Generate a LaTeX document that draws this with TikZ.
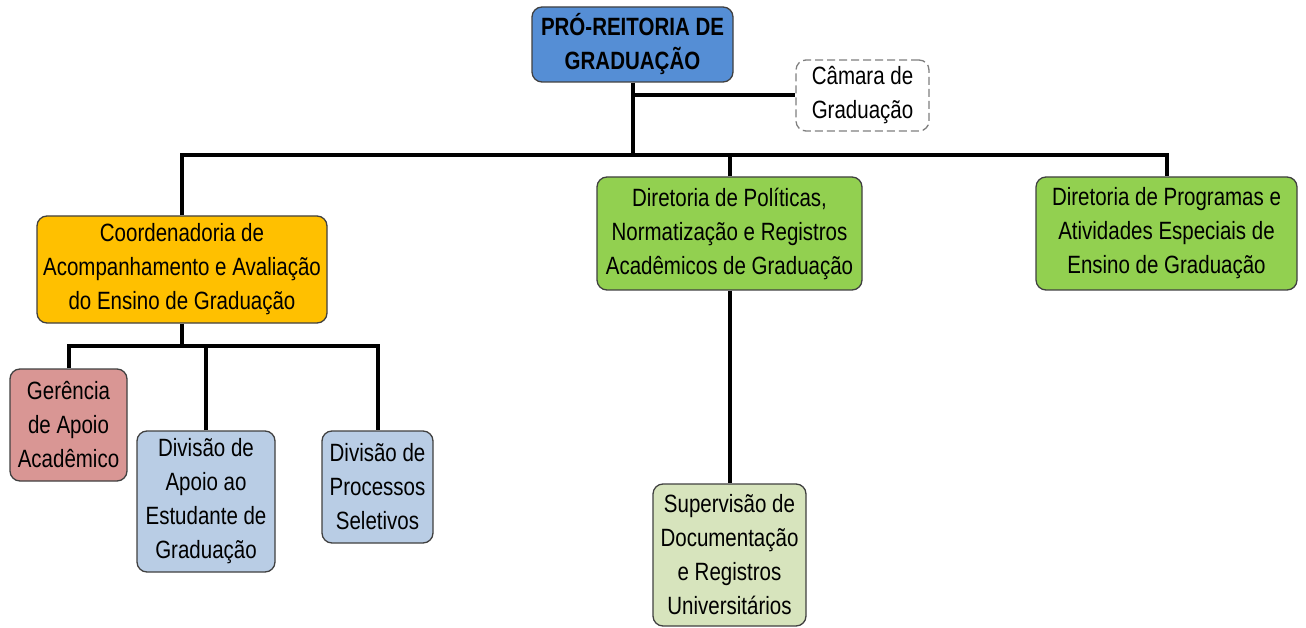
\documentclass[tikz,border=0pt]{standalone}
\usepackage{fontspec}
\setmainfont{Liberation Sans}[FakeStretch=0.82]
\definecolor{cblue}{HTML}{558ED5}
\definecolor{corange}{HTML}{FFC000}
\definecolor{cgreen}{HTML}{92D050}
\definecolor{cred}{HTML}{D99694}
\definecolor{clblue}{HTML}{B9CDE5}
\definecolor{clgreen}{HTML}{D7E4BD}
\definecolor{cborder}{HTML}{404040}
\definecolor{cdash}{HTML}{7F7F7F}
\begin{document}
\begin{tikzpicture}[x=1pt,y=-1pt,
  box/.style={draw=cborder, line width=1.3pt, rounded corners=10pt, align=center,
    inner sep=0pt, font=\fontsize{25}{34}\selectfont, text=black},
  conn/.style={line width=4pt, black}]
\useasboundingbox (0,0) rectangle (1306,628);
\node[box, fill=cblue, minimum width=201, minimum height=75,
  font=\fontsize{25}{34}\selectfont\bfseries] (pro) at (632.5,44.5) {PRÓ-REITORIA DE\\GRADUAÇÃO};
\node[box, draw=cdash, dash pattern=on 8pt off 4pt, fill=white, minimum width=133, minimum height=71] (cam) at (862.5,95.5) {Câmara de\\Graduação};
\node[box, fill=corange, minimum width=290, minimum height=107] (coord) at (182,269.5) {Coordenadoria de\\Acompanhamento e Avaliação\\do Ensino de Graduação};
\node[box, fill=cgreen, minimum width=265, minimum height=113] (dpol) at (729.5,233.5) {Diretoria de Políticas,\\Normatização e Registros\\Acadêmicos de Graduação};
\node[box, fill=cgreen, minimum width=261, minimum height=113] (dprog) at (1166.5,233.5) {Diretoria de Programas e\\Atividades Especiais de\\Ensino de Graduação};
\node[box, fill=cred, minimum width=117, minimum height=112] (ger) at (68.5,425) {Gerência\\de Apoio\\Acadêmico};
\node[box, fill=clblue, minimum width=138, minimum height=141] (dae) at (206,501.5) {Divisão de\\Apoio ao\\Estudante de\\Graduação};
\node[box, fill=clblue, minimum width=111, minimum height=112] (dps) at (377.5,487) {Divisão de\\Processos\\Seletivos};
\node[box, fill=clgreen, minimum width=153, minimum height=142] (sup) at (729.5,555) {Supervisão de\\Documentação\\e Registros\\Universitários};
\coordinate (bus) at (0,155);
\coordinate (sbus) at (0,346);
\draw[conn] (coord.north) |- (bus -| dprog.north) -- (dprog.north);
\draw[conn] (pro.south) -- (pro.south |- bus);
\draw[conn] (dpol.north) -- (dpol.north |- bus);
\draw[conn] (pro.south |- cam.west) -- (cam.west);
\draw[conn] (ger.north) |- (sbus -| dps.north) -- (dps.north);
\draw[conn] (coord.south) -- (coord.south |- sbus);
\draw[conn] (dae.north) -- (dae.north |- sbus);
\draw[conn] (dpol.south) -- (sup.north);
\end{tikzpicture}
\end{document}
